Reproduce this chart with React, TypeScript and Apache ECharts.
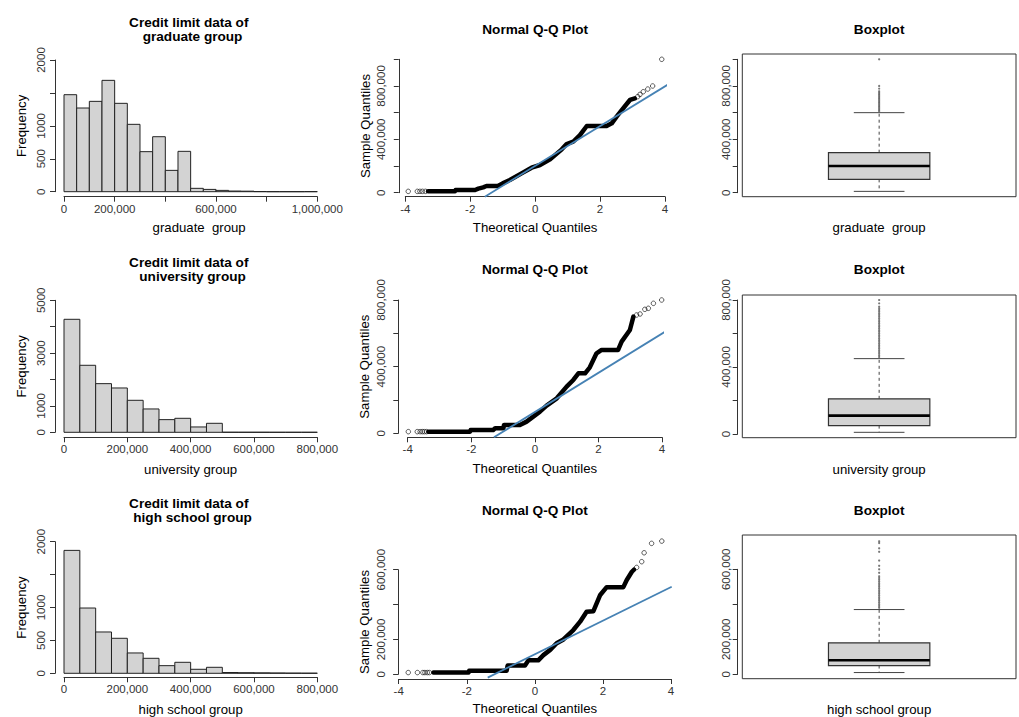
import React, { useEffect, useRef } from "react";
import * as echarts from "echarts";

const FONT = '"Liberation Sans", Arial, Helvetica, sans-serif';
const AXIS_COLOR = "#333";
const BAR_FILL = "#D3D3D3";
const QQ_LINE_COLOR = "#4682B4";

// ---------------- histogram data ----------------
const gradBreaks = [0, 50000, 100000, 150000, 200000, 250000, 300000, 350000, 400000, 450000, 500000, 550000, 600000, 650000, 700000, 750000, 800000, 850000, 900000, 950000, 1000000];
const gradCounts = [1473, 1271, 1372, 1691, 1342, 1023, 608, 835, 324, 613, 51, 35, 20, 10, 8, 2, 0, 0, 0, 1];
const univBreaks = [0, 50000, 100000, 150000, 200000, 250000, 300000, 350000, 400000, 450000, 500000, 550000, 600000, 650000, 700000, 750000, 800000];
const univCounts = [4280, 2538, 1843, 1679, 1212, 884, 480, 530, 202, 341, 3, 2, 2, 1, 1, 1];
const hsBreaks = [0, 50000, 100000, 150000, 200000, 250000, 300000, 350000, 400000, 450000, 500000, 550000, 600000, 650000, 700000, 750000, 800000];
const hsCounts = [1868, 992, 628, 532, 309, 228, 116, 167, 61, 91, 12, 9, 7, 5, 3, 2];

// ---------------- Q-Q data (theoretical, sample) ----------------
const gradQQBand = [[-3.3, 10000], [-2.47, 10000], [-2.45, 20000], [-1.85, 20000], [-1.75, 30000], [-1.6, 40000], [-1.5, 50000], [-1.15, 50000], [-1.0, 70000], [-0.78, 95000], [-0.42, 145000], [-0.11, 187500], [0.15, 207500], [0.46, 250000], [0.82, 325000], [0.97, 365000], [1.17, 382000], [1.38, 432000], [1.59, 500000], [2.2, 500000], [2.36, 520000], [2.51, 570000], [2.71, 632000], [2.92, 695000], [3.07, 707000]];
const gradQQTail = [[-3.91, 10000], [-3.63, 10000], [-3.55, 10000], [-3.47, 10000], [-3.38, 10000], [3.16, 720000], [3.23, 737000], [3.33, 757000], [3.47, 777000], [3.62, 800000], [3.9, 1000000]];
const gradQQLine = [[-1.55, -30000], [4.22, 830000]];

const univQQBand = [[-3.35, 10000], [-2.04, 10000], [-2.02, 20000], [-1.31, 20000], [-1.25, 30000], [-0.99, 30000], [-0.97, 50000], [-0.47, 50000], [-0.26, 70000], [-0.05, 100000], [0.16, 130000], [0.37, 166000], [0.69, 210000], [1.0, 280000], [1.21, 320000], [1.37, 360000], [1.58, 360000], [1.73, 396000], [1.94, 480000], [2.1, 500000], [2.62, 500000], [2.73, 550000], [2.99, 620000], [3.1, 700000]];
const univQQTail = [[-3.98, 10000], [-3.7, 10000], [-3.61, 10000], [-3.54, 10000], [-3.48, 10000], [-3.41, 10000], [3.2, 710000], [3.31, 716000], [3.46, 744000], [3.57, 750000], [3.73, 780000], [3.99, 800000]];
const univQQLine = [[-1.285, -24000], [4.32, 636000]];

const hsQQBand = [[-2.98, 10000], [-1.95, 10000], [-1.93, 20000], [-0.83, 20000], [-0.8, 50000], [-0.29, 50000], [-0.19, 80000], [0.1, 80000], [0.25, 110000], [0.45, 140000], [0.64, 178000], [0.84, 200000], [1.13, 254000], [1.33, 302000], [1.52, 359000], [1.72, 362000], [1.92, 455000], [2.11, 500000], [2.6, 500000], [2.7, 541000], [2.85, 588000], [2.91, 600000]];
const hsQQTail = [[-3.72, 10000], [-3.45, 10000], [-3.29, 10000], [-3.23, 10000], [-3.16, 10000], [-3.1, 10000], [2.99, 613000], [3.14, 646000], [3.21, 697000], [3.43, 751000], [3.73, 764000]];
const hsQQLine = [[-1.385, -19000], [4.02, 502000]];

// ---------------- boxplot data: [min whisker, Q1, median, Q3, max whisker] ----------------
const gradBox = [10000, 100000, 200000, 300000, 600000];
const univBox = [10000, 50000, 110000, 210000, 450000];
const hsBox = [10000, 50000, 80000, 180000, 370000];
const gradOutliers = [610000, 620000, 630000, 640000, 650000, 660000, 670000, 680000, 690000, 700000, 710000, 720000, 730000, 740000, 750000, 760000, 780000, 800000, 1000000];
const univOutliers = [460000, 470000, 480000, 490000, 500000, 510000, 520000, 530000, 540000, 550000, 560000, 570000, 580000, 590000, 600000, 610000, 620000, 630000, 640000, 650000, 660000, 670000, 680000, 690000, 700000, 710000, 720000, 730000, 740000, 750000, 760000, 780000, 800000];
const hsOutliers = [380000, 390000, 400000, 410000, 420000, 430000, 440000, 450000, 460000, 470000, 480000, 490000, 500000, 510000, 520000, 530000, 540000, 550000, 560000, 580000, 600000, 620000, 650000, 700000, 720000, 750000, 760000];

// ---------------- tick labels ----------------
const histGradXLabels = ["0", "200,000", "", "600,000", "", "1,000,000"];
const histGradYLabels = ["0", "500", "1000", "", "2000"];
const histUnivXLabels = ["0", "200,000", "400,000", "600,000", "800,000"];
const histUnivYLabels = ["0", "1000", "", "3000", "", "5000"];
const histHsXLabels = ["0", "200,000", "400,000", "600,000", "800,000"];
const histHsYLabels = ["0", "500", "1000", "", "2000"];
const qqXLabels = ["-4", "-2", "0", "2", "4"];
const gradYLabels = ["0", "", "400,000", "", "800,000", ""];
const univYLabels = ["0", "", "400,000", "", "800,000"];
const hsYLabels = ["0", "200,000", "", "600,000"];

// ---------------- layout ----------------
const ROW = [0, 240, 481];
const HIST_L = [
  { left: 64, top: 60, width: 253.3, height: 131.7, xOff: 5, yOff: 9, nameGap: 24.5 },
  { left: 64, top: 300.3, width: 253.3, height: 132, xOff: 5, yOff: 9, nameGap: 25.5 },
  { left: 64, top: 541.7, width: 253.3, height: 131.6, xOff: 4, yOff: 9, nameGap: 25.5 },
];
const QQ_L = [
  { left: 405.3, top: 59.3, width: 259.7, height: 133.4, xOff: 4, yOff: 6.5, nameGap: 24.5 },
  { left: 407.7, top: 300, width: 254.3, height: 133.3, xOff: 4, yOff: 9.4, nameGap: 24.5 },
  { left: 398.7, top: 569.7, width: 272.3, height: 104.6, xOff: 4.7, yOff: 0.6, nameGap: 23 },
];
const BOX_L = [
  { left: 742.3, top: 59.3, width: 273.7, height: 133.4, frameTop: 54, frameHeight: 142.7, yOff: 4.6, nameGap: 24.5 },
  { left: 742.3, top: 300, width: 273.7, height: 134, frameTop: 295, frameHeight: 142.7, yOff: 4.6, nameGap: 25 },
  { left: 742.3, top: 569.3, width: 273.7, height: 105, frameTop: 535, frameHeight: 143.7, yOff: 4.6, nameGap: 24 },
];
const BOX_HALF = 0.2;
const CAP_HALF = 0.1;

function labelFormatter(labels: string[], min: number, interval: number) {
  return (v: number) => {
    const i = Math.round((v - min) / interval);
    return labels[i] ?? "";
  };
}

function valueAxis(o: any) {
  return {
    type: "value",
    gridIndex: o.gridIndex,
    min: o.min,
    max: o.max,
    interval: o.interval,
    offset: o.offset ?? 0,
    show: o.show ?? true,
    splitLine: { show: false },
    axisLine: { show: o.line ?? true, onZero: false, lineStyle: { color: AXIS_COLOR, width: 1 } },
    axisTick: { show: o.line ?? true, inside: false, length: 5, lineStyle: { color: AXIS_COLOR, width: 1 } },
    axisLabel: {
      show: o.labels != null,
      color: AXIS_COLOR,
      fontSize: 11.5,
      fontFamily: FONT,
      margin: o.margin ?? 6,
      rotate: o.rotate ?? 0,
      formatter: o.labels ? labelFormatter(o.labels, o.min, o.interval) : undefined,
    },
    name: o.name,
    nameLocation: "middle",
    nameGap: o.nameGap,
    nameRotate: o.nameRotate,
    nameMoveOverlap: false,
    nameTextStyle: { color: "#000", fontSize: 13.2, fontFamily: FONT, padding: o.namePad ?? 0 },
    position: o.position,
  };
}

function titleDef(text: string, x: number, top: number) {
  return {
    text,
    left: x,
    top,
    padding: 0,
    textAlign: "center",
    textStyle: { fontSize: 13.6, fontWeight: "bold", fontFamily: FONT, color: "#000", lineHeight: 14.5 },
  };
}

function buildOption() {
  const grids: any[] = [];
  const xAxes: any[] = [];
  const yAxes: any[] = [];
  const series: any[] = [];
  const titles: any[] = [];

  const hists = [
    { breaks: gradBreaks, counts: gradCounts, xMax: 1000000, xLabels: histGradXLabels, yMax: 2000, yInt: 500, yLabels: histGradYLabels, name: "graduate  group", namePad: [0, 0, 0, 17], title: "Credit limit data of \n graduate group" },
    { breaks: univBreaks, counts: univCounts, xMax: 800000, xLabels: histUnivXLabels, yMax: 5000, yInt: 1000, yLabels: histUnivYLabels, name: "university group", namePad: 0, title: "Credit limit data of \n university group" },
    { breaks: hsBreaks, counts: hsCounts, xMax: 800000, xLabels: histHsXLabels, yMax: 2000, yInt: 500, yLabels: histHsYLabels, name: "high school group", namePad: 0, title: "Credit limit data of \n high school group" },
  ];
  const qqs = [
    { band: gradQQBand, tail: gradQQTail, line: gradQQLine, yMax: 1000000, yLabels: gradYLabels },
    { band: univQQBand, tail: univQQTail, line: univQQLine, yMax: 800000, yLabels: univYLabels },
    { band: hsQQBand, tail: hsQQTail, line: hsQQLine, yMax: 600000, yLabels: hsYLabels },
  ];
  const boxes = [
    { stats: gradBox, out: gradOutliers, yMax: 1000000, yLabels: gradYLabels, name: "graduate  group" },
    { stats: univBox, out: univOutliers, yMax: 800000, yLabels: univYLabels, name: "university group" },
    { stats: hsBox, out: hsOutliers, yMax: 600000, yLabels: hsYLabels, name: "high school group" },
  ];

  for (let r = 0; r < 3; r++) {
    // ---------- histogram ----------
    const h = hists[r];
    const hl = HIST_L[r];
    let gi = grids.length;
    grids.push({ left: hl.left, top: hl.top, width: hl.width, height: hl.height, containLabel: false, outerBoundsMode: "none" });
    xAxes.push(valueAxis({ gridIndex: gi, min: 0, max: h.xMax, interval: 200000, offset: hl.xOff, labels: h.xLabels, margin: 6, name: h.name, nameGap: hl.nameGap, namePad: h.namePad, position: "bottom" }));
    yAxes.push(valueAxis({ gridIndex: gi, min: 0, max: h.yMax, interval: h.yInt, offset: hl.yOff, labels: h.yLabels, margin: 8.5, rotate: 90, name: "Frequency", nameGap: 26.8, nameRotate: 90, position: "left" }));
    series.push({
      type: "custom",
      xAxisIndex: gi,
      yAxisIndex: gi,
      silent: true,
      clip: false,
      encode: { x: [0, 1], y: 2 },
      data: h.counts.map((c, j) => [h.breaks[j], h.breaks[j + 1], c]),
      renderItem: (params: any, api: any) => {
        const a = api.coord([api.value(0), 0]);
        const b = api.coord([api.value(1), api.value(2)]);
        return {
          type: "rect",
          shape: { x: a[0], y: b[1], width: b[0] - a[0], height: a[1] - b[1] },
          style: { fill: BAR_FILL, stroke: "#222", lineWidth: 1 },
        };
      },
    });
    titles.push(titleDef(h.title, hl.left + hl.width / 2, 14.75 + ROW[r]));

    // ---------- Q-Q ----------
    const q = qqs[r];
    const ql = QQ_L[r];
    gi = grids.length;
    grids.push({ left: ql.left, top: ql.top, width: ql.width, height: ql.height, containLabel: false, outerBoundsMode: "none" });
    xAxes.push(valueAxis({ gridIndex: gi, min: -4, max: 4, interval: 2, offset: ql.xOff, labels: qqXLabels, margin: 6, name: "Theoretical Quantiles", nameGap: ql.nameGap, position: "bottom" }));
    yAxes.push(valueAxis({ gridIndex: gi, min: 0, max: q.yMax, interval: 200000, offset: ql.yOff, labels: q.yLabels, margin: 11.5, rotate: 90, name: "Sample Quantiles", nameGap: 27.3, nameRotate: 90, position: "left" }));
    series.push({
      type: "line",
      xAxisIndex: gi,
      yAxisIndex: gi,
      data: q.band,
      symbol: "none",
      showSymbol: false,
      silent: true,
      clip: false,
      z: 2,
      lineStyle: { color: "#000", width: 4.5, join: "round", cap: "round" },
    });
    series.push({
      type: "scatter",
      xAxisIndex: gi,
      yAxisIndex: gi,
      data: q.tail,
      symbol: "circle",
      symbolSize: 4.5,
      silent: true,
      clip: false,
      z: 2,
      itemStyle: { color: "rgba(0,0,0,0)", borderColor: "#000", borderWidth: 0.8 },
    });
    series.push({
      type: "line",
      xAxisIndex: gi,
      yAxisIndex: gi,
      data: q.line,
      symbol: "none",
      showSymbol: false,
      silent: true,
      clip: false,
      z: 3,
      lineStyle: { color: QQ_LINE_COLOR, width: 1.8 },
    });
    titles.push(titleDef("Normal Q-Q Plot", ql.left + ql.width / 2, 22.35 + ROW[r]));

    // ---------- boxplot ----------
    const b = boxes[r];
    const bl = BOX_L[r];
    // frame grid
    gi = grids.length;
    grids.push({ left: bl.left, top: bl.frameTop, width: bl.width, height: bl.frameHeight, show: true, borderColor: AXIS_COLOR, borderWidth: 1, backgroundColor: "rgba(0,0,0,0)", containLabel: false, outerBoundsMode: "none" });
    xAxes.push(valueAxis({ gridIndex: gi, min: 0, max: 1, interval: 1, line: false, name: b.name, nameGap: bl.nameGap, position: "bottom" }));
    yAxes.push(valueAxis({ gridIndex: gi, min: 0, max: 1, interval: 1, show: false, line: false }));
    // data grid
    gi = grids.length;
    grids.push({ left: bl.left, top: bl.top, width: bl.width, height: bl.height, containLabel: false, outerBoundsMode: "none" });
    xAxes.push(valueAxis({ gridIndex: gi, min: 0.46, max: 1.54, interval: 0.54, show: false, line: false }));
    yAxes.push(valueAxis({ gridIndex: gi, min: 0, max: b.yMax, interval: 200000, offset: bl.yOff, labels: b.yLabels, margin: 6, rotate: 90, position: "left" }));
    series.push({
      type: "custom",
      xAxisIndex: gi,
      yAxisIndex: gi,
      silent: true,
      clip: false,
      z: 2,
      encode: { x: 0, y: [1, 2, 3, 4, 5] },
      data: [[1, ...b.stats]],
      renderItem: (params: any, api: any) => {
        const x = api.value(0);
        const mn = api.value(1), q1 = api.value(2), md = api.value(3), q3 = api.value(4), mx = api.value(5);
        const c = (xx: number, yy: number) => api.coord([xx, yy]);
        const ln = (x1: number, y1: number, x2: number, y2: number, style: any) => {
          const p = c(x1, y1), s = c(x2, y2);
          return { type: "line", shape: { x1: p[0], y1: p[1], x2: s[0], y2: s[1] }, style };
        };
        const dashed = { stroke: "#444", lineWidth: 1, lineDash: [3, 3] };
        const solid = { stroke: "#444", lineWidth: 1 };
        const tl = c(x - BOX_HALF, q3);
        const brc = c(x + BOX_HALF, q1);
        return {
          type: "group",
          children: [
            ln(x, q3, x, mx, dashed),
            ln(x, q1, x, mn, dashed),
            ln(x - CAP_HALF, mx, x + CAP_HALF, mx, solid),
            ln(x - CAP_HALF, mn, x + CAP_HALF, mn, solid),
            {
              type: "rect",
              shape: { x: tl[0], y: tl[1], width: brc[0] - tl[0], height: brc[1] - tl[1] },
              style: { fill: BAR_FILL, stroke: "#333", lineWidth: 1.2 },
            },
            ln(x - BOX_HALF, md, x + BOX_HALF, md, { stroke: "#000", lineWidth: 2.6 }),
          ],
        };
      },
    });
    series.push({
      type: "scatter",
      xAxisIndex: gi,
      yAxisIndex: gi,
      data: b.out.map((v) => [1, v]),
      symbol: "circle",
      symbolSize: 2.2,
      silent: true,
      clip: false,
      z: 3,
      itemStyle: { color: "#555" },
    });
    titles.push(titleDef("Boxplot", bl.left + bl.width / 2, 22.35 + ROW[r]));
  }

  return {
    animation: false,
    backgroundColor: "#fff",
    textStyle: { fontFamily: FONT },
    title: titles,
    grid: grids,
    xAxis: xAxes,
    yAxis: yAxes,
    series,
  };
}

export default function App() {
  const ref = useRef<HTMLDivElement>(null);
  useEffect(() => {
    if (!ref.current) return;
    const chart = echarts.init(ref.current, null, { renderer: "svg" });
    chart.setOption(buildOption() as any);
    return () => chart.dispose();
  }, []);
  return (
    <div
      ref={ref}
      style={{ position: "absolute", left: 0, top: 0, width: 1019, height: 717, background: "#fff" }}
    />
  );
}
